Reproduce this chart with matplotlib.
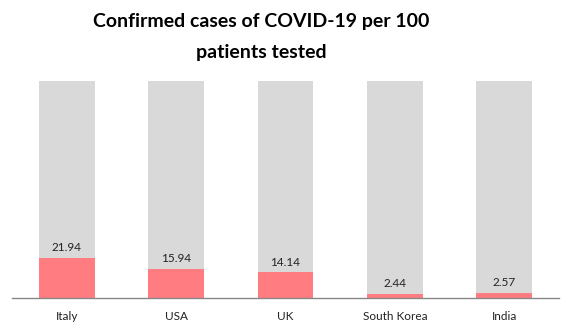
import matplotlib.pyplot as plt

countries = ['Italy', 'USA', 'UK', 'South Korea', 'India']
cases_per_100 = [21.94, 15.94, 14.14, 2.44, 2.57]
y_max = 120

plt.rcParams['font.family'] = ['Lato', 'DejaVu Sans']

fig = plt.figure(figsize=(5.71, 3.31), dpi=100)
ax = fig.add_axes([12 / 571, 33 / 331, 547 / 571, 217 / 331])

x = range(len(countries))
# gray track behind each bar, filling the plot height
ax.bar(x, [y_max] * len(countries), width=0.51, color='#d9d9d9', zorder=1)
ax.bar(x, cases_per_100, width=0.51, color='#ff7c80', zorder=2)

for i, v in enumerate(cases_per_100):
    ax.annotate(f'{v:.2f}', (i, v), xytext=(0, 3.5), textcoords='offset points',
                ha='center', va='bottom', fontsize=8.5, color='#222222')

ax.set_xlim(-0.5, len(countries) - 0.5)
ax.set_ylim(0, y_max)
ax.set_xticks(list(x))
ax.set_xticklabels(countries, fontsize=8.5, color='#222222')
ax.tick_params(axis='x', length=0, pad=9)
ax.set_yticks([])
for side in ['top', 'right', 'left']:
    ax.spines[side].set_visible(False)
ax.spines['bottom'].set_color('#888888')
ax.spines['bottom'].set_linewidth(1)

fig.text(0.458, 1 - 37 / 331, 'Confirmed cases of COVID-19 per 100\npatients tested',
         ha='center', va='center', fontsize=14, fontweight='bold',
         linespacing=2.0, color='black')

fig.savefig('out.png', dpi=100)
